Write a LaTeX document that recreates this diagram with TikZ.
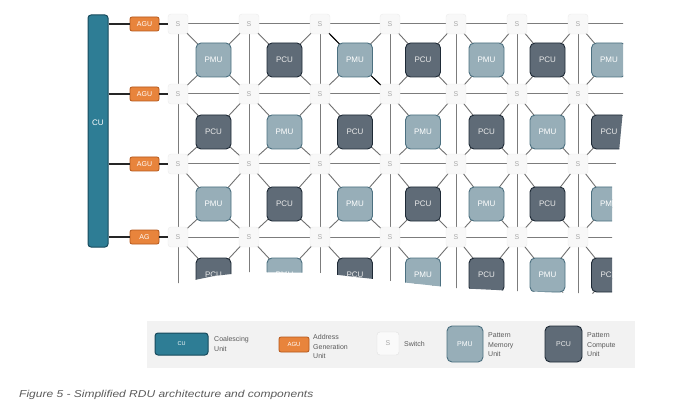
\documentclass[tikz,border=0pt]{standalone}
\usepackage{fontspec}
\setmainfont{Liberation Sans}
\newfontfamily\capfont[FakeStretch=1.2]{Liberation Sans}
\usetikzlibrary{backgrounds}
\definecolor{cuFill}{HTML}{2E7D95}
\definecolor{cuLine}{HTML}{174A5C}
\definecolor{aguFill}{HTML}{E8843C}
\definecolor{aguLine}{HTML}{B4571C}
\definecolor{pmuFill}{HTML}{97AEB8}
\definecolor{pmuLine}{HTML}{4C7080}
\definecolor{pcuFill}{HTML}{5F6B77}
\definecolor{pcuLine}{HTML}{1E2A36}
\definecolor{swFill}{HTML}{F8F8F8}
\definecolor{swText}{HTML}{A8A8A8}
\definecolor{gridGray}{HTML}{7C7C7C}
\definecolor{legBg}{HTML}{F2F2F2}
\definecolor{legText}{HTML}{5A5A5A}
\newcommand\gridclip{\clip (160,4) -- (623,4) -- (623,110) -- (619,152) -- (612,178) -- (612,300) -- (600,294) -- (517,291) -- (455,288) -- (391,281) -- (321,273) -- (249,272) -- (214,276) -- (180,283) -- (160,283) -- cycle;}
\tikzset{
  cubox/.style={draw=cuLine, line width=1pt, fill=cuFill, rounded corners=3pt, text=white, inner sep=0pt},
  agubox/.style={draw=aguLine, line width=0.8pt, fill=aguFill, rounded corners=2pt, text=white, font=\fontsize{7}{8}\selectfont, inner sep=0pt, minimum width=29pt, minimum height=14pt},
  sw/.style={draw=white!92!black, line width=0.4pt, fill=swFill, rounded corners=3pt, text=swText, font=\fontsize{7}{8}\selectfont, minimum width=20pt, minimum height=20pt, inner sep=0pt},
  pmu/.style={draw=pmuLine, line width=0.9pt, fill=pmuFill, rounded corners=5pt, text=white, font=\fontsize{8}{9}\selectfont, minimum width=35pt, minimum height=34pt, inner sep=0pt},
  pcu/.style={draw=pcuLine, line width=0.9pt, fill=pcuFill, rounded corners=5pt, text=white!92!black, font=\fontsize{8}{9}\selectfont, minimum width=35pt, minimum height=34pt, inner sep=0pt},
  gridline/.style={draw=gridGray, line width=1pt},
  diagline/.style={draw=gridGray!90!black, line width=0.9pt},
  hotline/.style={draw=black, line width=1pt},
  wire/.style={draw=black!85, line width=1.2pt},
  legtext/.style={text=legText, font=\fontsize{7}{9.5}\selectfont, align=left, anchor=west, inner sep=0pt},
}
\begin{document}
\begin{tikzpicture}[x=1pt,y=-1pt]
\useasboundingbox (0,0) rectangle (690,406);
% Coalescing unit
\node[cubox, minimum width=20pt, minimum height=232pt] (cu) at (98,131) {};
\node[text=white, font=\fontsize{8}{9}\selectfont] (cut) at (98,123) {CU};
% grid nodes (clipped)
\begin{scope}
\gridclip
\foreach \x [count=\c] in {178,249,320,390,456,517,578}{
  \foreach \y [count=\r] in {24,94,164,237}{
    \node[sw] (s-\c-\r) at (\x,\y) {S};
  }
}
\foreach \y [count=\r] in {24,94,164,237}{ \coordinate (s-8-\r) at (640,\y); }
\foreach \x [count=\c] in {178,249,320,390,456,517,578,640}{ \coordinate (s-\c-5) at (\x,310); }
\foreach \x [count=\c] in {213.5,284.5,355,423,486.5,547.5,609}{
  \foreach \y [count=\r] in {60,132,204,275}{
    \pgfmathtruncatemacro\parity{mod(\c+\r,2)}
    \ifnum\parity=0
      \node[pmu] (b-\c-\r) at (\x,\y) {PMU};
    \else
      \node[pcu] (b-\c-\r) at (\x,\y) {PCU};
    \fi
  }
}
\end{scope}
% grid lines behind
\begin{scope}[on background layer]
\gridclip
\foreach \c in {1,...,7}{
  \foreach \r in {1,...,4}{
    \pgfmathtruncatemacro\cn{\c+1}
    \pgfmathtruncatemacro\rn{\r+1}
    \draw[gridline] (s-\c-\r.center) -- (s-\cn-\r.center);
    \draw[gridline] (s-\c-\r.center) -- (s-\c-\rn.center);
    \draw[diagline] (b-\c-\r.center) -- (s-\c-\r.center);
    \draw[diagline] (b-\c-\r.center) -- (s-\cn-\r.center);
    \draw[diagline] (b-\c-\r.center) -- (s-\c-\rn.center);
    \draw[diagline] (b-\c-\r.center) -- (s-\cn-\rn.center);
  }
}
\draw[hotline] (b-3-1.center) -- (s-3-1.center);
\draw[hotline] (b-3-1.center) -- (s-4-2.center);
\end{scope}
% AGUs and wires
\foreach \y/\t [count=\r] in {24/AGU,94/AGU,164/AGU,237/AG}{
  \node[agubox] (agu-\r) at (144.5,\y) {\t};
  \draw[wire] (cu.east |- agu-\r.west) -- (agu-\r.west);
  \draw[wire] (agu-\r.east) -- (s-1-\r.west);
}
% legend
\fill[legBg] (147,321) rectangle (635,368);
\node[cubox, minimum width=53pt, minimum height=22pt, font=\fontsize{5.5}{6}\selectfont] (lg-cu) at (181.5,344) {CU};
\node[legtext] (lg-cu-t) at (214,344) {Coalescing\\Unit};
\node[agubox, minimum width=30pt, minimum height=15pt, font=\fontsize{6}{7}\selectfont] (lg-agu) at (294,344.5) {AGU};
\node[legtext] (lg-agu-t) at (313,346.5) {Address\\Generation\\Unit};
\node[sw, minimum width=22pt, minimum height=23pt, draw=white!88!black, fill=white!98!black] (lg-sw) at (388,343.5) {S};
\node[legtext] (lg-sw-t) at (404,344) {Switch};
\node[pmu, minimum width=36pt, minimum height=36pt, font=\fontsize{7}{8}\selectfont] (lg-pmu) at (465,344) {PMU};
\node[legtext] (lg-pmu-t) at (488,345) {Pattern\\Memory\\Unit};
\node[pcu, minimum width=37pt, minimum height=36pt, font=\fontsize{7}{8}\selectfont] (lg-pcu) at (563.5,344) {PCU};
\node[legtext] (lg-pcu-t) at (587,345) {Pattern\\Compute\\Unit};
% caption
\node[anchor=base west, inner sep=0pt, text=legText, font=\capfont\itshape\fontsize{10}{12}\selectfont] (cap) at (19,397.5) {Figure 5 - Simplified RDU architecture and components};
\end{tikzpicture}
\end{document}
